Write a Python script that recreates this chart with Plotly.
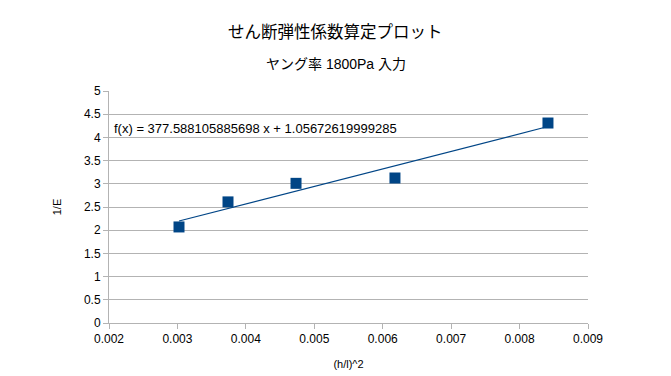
import plotly.graph_objects as go

# Data
x_vals = [0.003023, 0.003739, 0.004733, 0.006179, 0.008415]
y_vals = [2.07, 2.61, 3.01, 3.125, 4.31]

trend_slope = 377.588105885698
trend_intercept = 1.05672619999285

x_ticks = [0.002, 0.003, 0.004, 0.005, 0.006, 0.007, 0.008, 0.009]
x_tick_labels = ["0.002", "0.003", "0.004", "0.005", "0.006", "0.007", "0.008", "0.009"]
y_ticks = [0, 0.5, 1, 1.5, 2, 2.5, 3, 3.5, 4, 4.5, 5]
y_tick_labels = ["0", "0.5", "1", "1.5", "2", "2.5", "3", "3.5", "4", "4.5", "5"]

title_text = "せん断弾性係数算定プロット"
subtitle_text = "ヤング率 1800Pa 入力"
eq_text = "f(x) = 377.588105885698 x + 1.05672619999285"

FONT = "Liberation Sans, Noto Sans CJK JP, sans-serif"

W, H = 671, 376
ML, MR, MT, MB = 109, 83, 91, 53
plot_h = H - MT - MB
plot_w = W - ML - MR


def paper_y(px):
    return (H - MB - px) / plot_h


def paper_x(px):
    return (px - ML) / plot_w


x_line = [min(x_vals), max(x_vals)]
y_line = [trend_slope * v + trend_intercept for v in x_line]

fig = go.Figure()
fig.add_trace(go.Scatter(
    x=x_line, y=y_line, mode="lines",
    line=dict(color="#004586", width=1.2),
    showlegend=False, hoverinfo="skip"))
fig.add_trace(go.Scatter(
    x=x_vals, y=y_vals, mode="markers",
    marker=dict(symbol="square", size=11, color="#004586",
                line=dict(width=0)),
    showlegend=False))

fig.update_layout(
    width=W, height=H,
    margin=dict(l=ML, r=MR, t=MT, b=MB, autoexpand=False),
    paper_bgcolor="white", plot_bgcolor="white",
    font=dict(family=FONT, color="#000000", size=12),
    xaxis=dict(
        range=[0.002, 0.009], tickvals=x_ticks, ticktext=x_tick_labels,
        showgrid=False, zeroline=False, automargin=False,
        showline=True, linecolor="#b3b3b3", linewidth=1,
        ticks="outside", ticklen=5, tickcolor="#b3b3b3",
        tickfont=dict(size=12, color="#000000"),
        title=dict(text="(h/l)^2", font=dict(size=11, color="#000000"), standoff=14),
    ),
    yaxis=dict(
        range=[0, 5], tickvals=y_ticks, ticktext=y_tick_labels,
        showgrid=True, gridcolor="#b3b3b3", gridwidth=1,
        zeroline=False, automargin=False,
        showline=True, linecolor="#b3b3b3", linewidth=1,
        ticks="outside", ticklen=5, tickcolor="#b3b3b3",
        tickfont=dict(size=12, color="#000000"),
        title=dict(text="1/E", font=dict(size=11, color="#000000"), standoff=20),
    ),
    annotations=[
        dict(text=title_text, x=paper_x(335.5), xref="paper", y=paper_y(32), yref="paper",
             xanchor="center", yanchor="middle", showarrow=False,
             font=dict(size=16.5, color="#000000")),
        dict(text=subtitle_text, x=paper_x(335.5), xref="paper", y=paper_y(64), yref="paper",
             xanchor="center", yanchor="middle", showarrow=False,
             font=dict(size=14, color="#000000")),
        dict(text=eq_text, x=0.00204, xref="x", y=4.19, yref="y",
             xanchor="left", yanchor="middle", showarrow=False,
             font=dict(size=13, color="#000000")),
    ],
)

fig.write_html("out.html", config={"displayModeBar": False},
               post_script="document.body.style.margin='0';document.body.style.overflow='hidden';")
